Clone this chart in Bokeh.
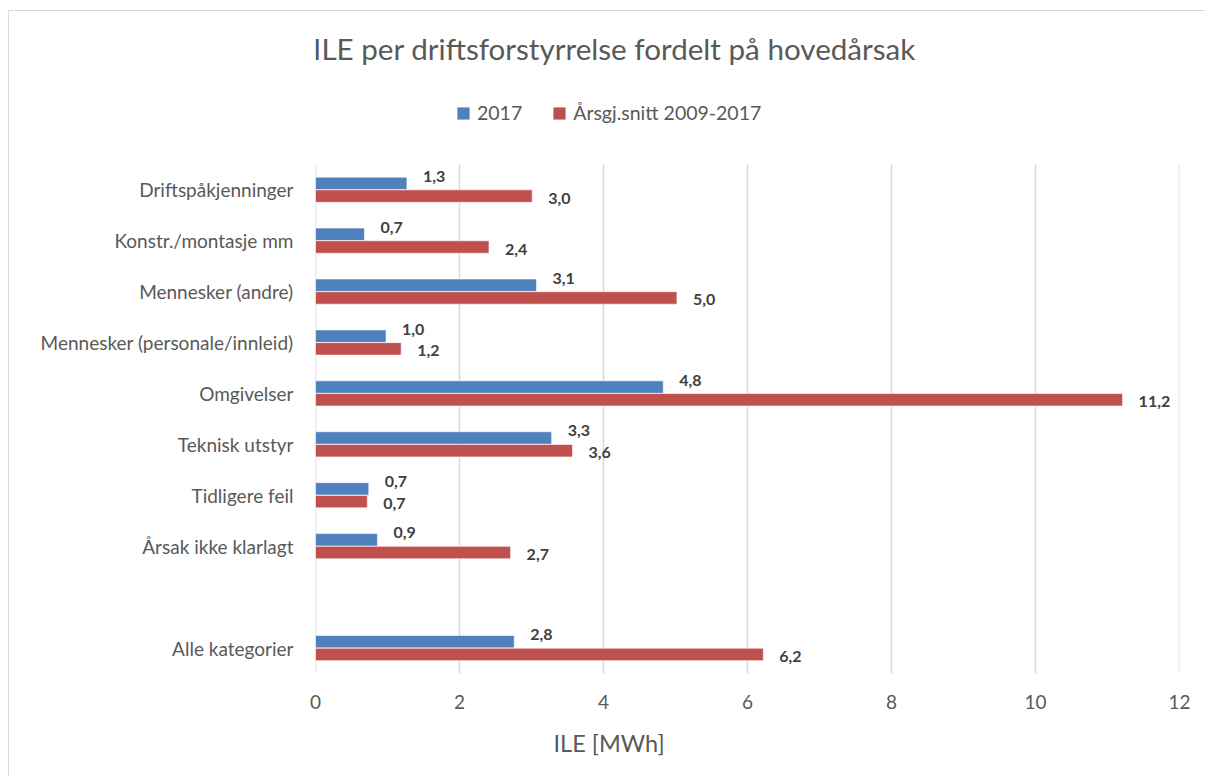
from bokeh.plotting import figure
from bokeh.models import ColumnDataSource, Range1d, Legend, LegendItem, FixedTicker, Title, Label
from bokeh.transform import dodge
from bokeh.core.properties import value
from bokeh.embed import file_html
from bokeh.resources import INLINE

# ---- data -------------------------------------------------------------
categories = [
    "Driftspåkjenninger",
    "Konstr./montasje mm",
    "Mennesker (andre)",
    "Mennesker (personale/innleid)",
    "Omgivelser",
    "Teknisk utstyr",
    "Tidligere feil",
    "Årsak ikke klarlagt",
    "",
    "Alle kategorier",
]
ile_2017 = [1.27, 0.68, 3.07, 0.98, 4.83, 3.28, 0.74, 0.86, None, 2.76]
ile_avg = [3.01, 2.41, 5.02, 1.19, 11.21, 3.57, 0.72, 2.71, None, 6.22]
series_names = ["2017", "Årsgj.snitt 2009-2017"]
x_ticks = [0, 2, 4, 6, 8, 10, 12]
title_text = "ILE per driftsforstyrrelse fordelt på hovedårsak"
x_label = "ILE [MWh]"

# ---- styling ----------------------------------------------------------
FONT = "Lato"
BLUE = "#4f81bd"
RED = "#c0504d"
GREY_TXT = "#595959"
GRID = "#d9d9d9"


def fmt(v):
    return f"{v:.1f}".replace(".", ",")


n = len(categories)
ypos = [n - 1 - i for i in range(n)]          # first category on top
rows = [i for i, v in enumerate(ile_2017) if v is not None]
src = ColumnDataSource(dict(
    y=[ypos[i] for i in rows],
    a=[ile_2017[i] for i in rows],
    b=[ile_avg[i] for i in rows],
    la=[fmt(ile_2017[i]) for i in rows],
    lb=[fmt(ile_avg[i]) for i in rows],
))

# frame runs up to the top of the chart so that title/legend sit inside it
p = figure(
    width=1197, height=766,
    y_range=Range1d(-0.5, n + 2.5),
    x_range=Range1d(0, 12),
    output_backend="svg", toolbar_location=None,
    min_border_left=306, min_border_right=27,
    min_border_top=0, min_border_bottom=104,
)
p.styles = {"border-left": "1px solid #d9d9d9", "border-top": "1px solid #d9d9d9",
            "margin-left": "8px", "margin-top": "10px"}
p.outline_line_color = None
p.background_fill_color = "white"
p.xgrid.grid_line_color = None
p.ygrid.grid_line_color = None

# vertical gridlines over the category area only
grid_src = ColumnDataSource(dict(x=x_ticks, y0=[-0.5] * len(x_ticks),
                                 y1=[n - 0.5] * len(x_ticks)))
p.segment(x0="x", y0="y0", x1="x", y1="y1", source=grid_src,
          line_color=GRID, line_width=1.5)

off = 0.125
r1 = p.hbar(y=dodge("y", off), left=0, right="a", height=0.245,
            source=src, fill_color=BLUE, line_color="white", line_width=0.6)
r2 = p.hbar(y=dodge("y", -off), left=0, right="b", height=0.245,
            source=src, fill_color=RED, line_color="white", line_width=0.6)

p.text(x="a", y=dodge("y", off), text="la", source=src,
       x_offset=16, y_offset=-7, text_baseline="middle", text_align="left",
       text_font=value(FONT), text_font_style="bold", text_font_size="16px",
       text_color="#404040")
p.text(x="b", y=dodge("y", -off), text="lb", source=src,
       x_offset=16, y_offset=2, text_baseline="middle", text_align="left",
       text_font=value(FONT), text_font_style="bold", text_font_size="16px",
       text_color="#404040")

# axes
p.xaxis.ticker = FixedTicker(ticks=x_ticks)
p.xaxis.axis_line_color = None
p.xaxis.major_tick_line_color = None
p.xaxis.minor_tick_line_color = None
p.xaxis.major_label_standoff = 15
p.xaxis.major_label_text_font = FONT
p.xaxis.major_label_text_font_size = "19px"
p.xaxis.major_label_text_color = GREY_TXT

label_pos = [ypos[i] for i, c in enumerate(categories) if c]
p.yaxis.ticker = FixedTicker(ticks=label_pos)
p.yaxis.major_label_overrides = {ypos[i]: c for i, c in enumerate(categories) if c}
p.yaxis.axis_line_color = None
p.yaxis.major_tick_line_color = None
p.yaxis.minor_tick_line_color = None
p.yaxis.major_label_standoff = 16
p.yaxis.major_label_text_font = FONT
p.yaxis.major_label_text_font_size = "19px"
p.yaxis.major_label_text_color = GREY_TXT

# title (screen units relative to the frame's bottom-left corner)
p.add_layout(Label(x=299, y=625, x_units="screen", y_units="screen", text=title_text,
                   text_align="center", text_baseline="alphabetic", text_font=FONT,
                   text_font_size="29.6px", text_color=GREY_TXT))

legend = Legend(
    items=[LegendItem(label=series_names[0], renderers=[r1]),
           LegendItem(label=series_names[1], renderers=[r2])],
    orientation="horizontal", location=(140, 549), padding=0, margin=0,
    border_line_color=None, background_fill_alpha=0,
    glyph_width=16, glyph_height=16, label_standoff=6, spacing=29,
    label_text_font=FONT, label_text_font_size="19.5px", label_text_color=GREY_TXT,
)
p.add_layout(legend)

p.add_layout(Title(text=x_label, align="left", offset=238, standoff=30,
                   text_font=FONT, text_font_size="23.5px", text_font_style="normal",
                   text_color=GREY_TXT), "below")

open("out.html", "w").write(file_html(p, INLINE))
